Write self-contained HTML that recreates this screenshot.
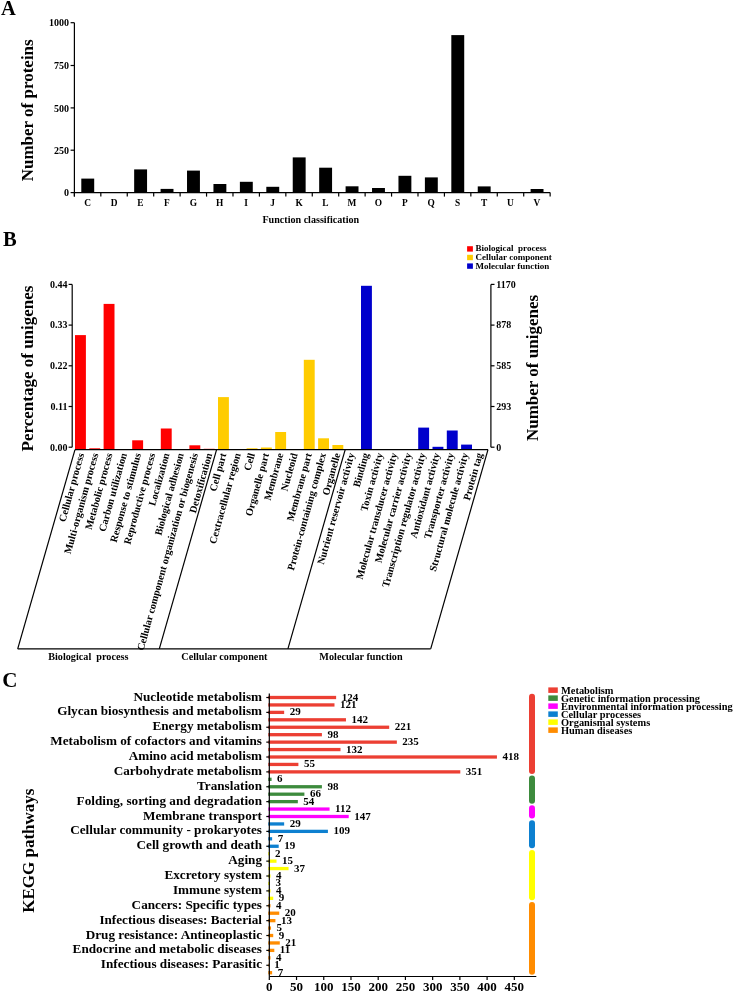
<!DOCTYPE html>
<html><head><meta charset="utf-8"><style>
html,body{margin:0;padding:0;background:#fff;}
body{width:735px;height:992px;overflow:hidden;}
svg{display:block;font-family:"Liberation Serif", serif;will-change:transform;}
</style></head><body>
<svg width="735" height="992" viewBox="0 0 735 992">
<text x="1.00" y="14.80" font-size="20.5" text-anchor="start" font-weight="bold" fill="#000" >A</text>
<line x1="74.40" y1="22.70" x2="74.40" y2="196.50" stroke="#000" stroke-width="1.2"/>
<line x1="70.60" y1="22.70" x2="74.40" y2="22.70" stroke="#000" stroke-width="1.2"/>
<text x="69.00" y="26.40" font-size="10" text-anchor="end" font-weight="bold" fill="#000" >1000</text>
<line x1="70.60" y1="65.50" x2="74.40" y2="65.50" stroke="#000" stroke-width="1.2"/>
<text x="69.00" y="69.20" font-size="10" text-anchor="end" font-weight="bold" fill="#000" >750</text>
<line x1="70.60" y1="107.90" x2="74.40" y2="107.90" stroke="#000" stroke-width="1.2"/>
<text x="69.00" y="111.60" font-size="10" text-anchor="end" font-weight="bold" fill="#000" >500</text>
<line x1="70.60" y1="150.20" x2="74.40" y2="150.20" stroke="#000" stroke-width="1.2"/>
<text x="69.00" y="153.90" font-size="10" text-anchor="end" font-weight="bold" fill="#000" >250</text>
<line x1="70.60" y1="192.60" x2="74.40" y2="192.60" stroke="#000" stroke-width="1.2"/>
<text x="69.00" y="196.30" font-size="10" text-anchor="end" font-weight="bold" fill="#000" >0</text>
<line x1="74.40" y1="192.60" x2="550.14" y2="192.60" stroke="#000" stroke-width="1.2"/>
<line x1="74.40" y1="192.60" x2="74.40" y2="196.60" stroke="#000" stroke-width="1.2"/>
<line x1="100.83" y1="192.60" x2="100.83" y2="196.60" stroke="#000" stroke-width="1.2"/>
<line x1="127.26" y1="192.60" x2="127.26" y2="196.60" stroke="#000" stroke-width="1.2"/>
<line x1="153.69" y1="192.60" x2="153.69" y2="196.60" stroke="#000" stroke-width="1.2"/>
<line x1="180.12" y1="192.60" x2="180.12" y2="196.60" stroke="#000" stroke-width="1.2"/>
<line x1="206.55" y1="192.60" x2="206.55" y2="196.60" stroke="#000" stroke-width="1.2"/>
<line x1="232.98" y1="192.60" x2="232.98" y2="196.60" stroke="#000" stroke-width="1.2"/>
<line x1="259.41" y1="192.60" x2="259.41" y2="196.60" stroke="#000" stroke-width="1.2"/>
<line x1="285.84" y1="192.60" x2="285.84" y2="196.60" stroke="#000" stroke-width="1.2"/>
<line x1="312.27" y1="192.60" x2="312.27" y2="196.60" stroke="#000" stroke-width="1.2"/>
<line x1="338.70" y1="192.60" x2="338.70" y2="196.60" stroke="#000" stroke-width="1.2"/>
<line x1="365.13" y1="192.60" x2="365.13" y2="196.60" stroke="#000" stroke-width="1.2"/>
<line x1="391.56" y1="192.60" x2="391.56" y2="196.60" stroke="#000" stroke-width="1.2"/>
<line x1="417.99" y1="192.60" x2="417.99" y2="196.60" stroke="#000" stroke-width="1.2"/>
<line x1="444.42" y1="192.60" x2="444.42" y2="196.60" stroke="#000" stroke-width="1.2"/>
<line x1="470.85" y1="192.60" x2="470.85" y2="196.60" stroke="#000" stroke-width="1.2"/>
<line x1="497.28" y1="192.60" x2="497.28" y2="196.60" stroke="#000" stroke-width="1.2"/>
<line x1="523.71" y1="192.60" x2="523.71" y2="196.60" stroke="#000" stroke-width="1.2"/>
<line x1="550.14" y1="192.60" x2="550.14" y2="196.60" stroke="#000" stroke-width="1.2"/>
<rect x="81.30" y="178.60" width="12.90" height="14.00" fill="#000"/>
<text x="87.62" y="205.70" font-size="9.4" text-anchor="middle" font-weight="bold" fill="#000" >C</text>
<text x="114.05" y="205.70" font-size="9.4" text-anchor="middle" font-weight="bold" fill="#000" >D</text>
<rect x="134.16" y="169.40" width="12.90" height="23.20" fill="#000"/>
<text x="140.47" y="205.70" font-size="9.4" text-anchor="middle" font-weight="bold" fill="#000" >E</text>
<rect x="160.59" y="188.90" width="12.90" height="3.70" fill="#000"/>
<text x="166.91" y="205.70" font-size="9.4" text-anchor="middle" font-weight="bold" fill="#000" >F</text>
<rect x="187.02" y="170.60" width="12.90" height="22.00" fill="#000"/>
<text x="193.34" y="205.70" font-size="9.4" text-anchor="middle" font-weight="bold" fill="#000" >G</text>
<rect x="213.45" y="184.00" width="12.90" height="8.60" fill="#000"/>
<text x="219.77" y="205.70" font-size="9.4" text-anchor="middle" font-weight="bold" fill="#000" >H</text>
<rect x="239.88" y="181.80" width="12.90" height="10.80" fill="#000"/>
<text x="246.19" y="205.70" font-size="9.4" text-anchor="middle" font-weight="bold" fill="#000" >I</text>
<rect x="266.31" y="186.80" width="12.90" height="5.80" fill="#000"/>
<text x="272.62" y="205.70" font-size="9.4" text-anchor="middle" font-weight="bold" fill="#000" >J</text>
<rect x="292.74" y="157.40" width="12.90" height="35.20" fill="#000"/>
<text x="299.06" y="205.70" font-size="9.4" text-anchor="middle" font-weight="bold" fill="#000" >K</text>
<rect x="319.17" y="167.70" width="12.90" height="24.90" fill="#000"/>
<text x="325.48" y="205.70" font-size="9.4" text-anchor="middle" font-weight="bold" fill="#000" >L</text>
<rect x="345.60" y="186.30" width="12.90" height="6.30" fill="#000"/>
<text x="351.92" y="205.70" font-size="9.4" text-anchor="middle" font-weight="bold" fill="#000" >M</text>
<rect x="372.03" y="188.00" width="12.90" height="4.60" fill="#000"/>
<text x="378.34" y="205.70" font-size="9.4" text-anchor="middle" font-weight="bold" fill="#000" >O</text>
<rect x="398.46" y="175.80" width="12.90" height="16.80" fill="#000"/>
<text x="404.77" y="205.70" font-size="9.4" text-anchor="middle" font-weight="bold" fill="#000" >P</text>
<rect x="424.89" y="177.40" width="12.90" height="15.20" fill="#000"/>
<text x="431.20" y="205.70" font-size="9.4" text-anchor="middle" font-weight="bold" fill="#000" >Q</text>
<rect x="451.32" y="35.10" width="12.90" height="157.50" fill="#000"/>
<text x="457.63" y="205.70" font-size="9.4" text-anchor="middle" font-weight="bold" fill="#000" >S</text>
<rect x="477.75" y="186.40" width="12.90" height="6.20" fill="#000"/>
<text x="484.06" y="205.70" font-size="9.4" text-anchor="middle" font-weight="bold" fill="#000" >T</text>
<text x="510.49" y="205.70" font-size="9.4" text-anchor="middle" font-weight="bold" fill="#000" >U</text>
<rect x="530.61" y="189.00" width="12.90" height="3.60" fill="#000"/>
<text x="536.93" y="205.70" font-size="9.4" text-anchor="middle" font-weight="bold" fill="#000" >V</text>
<text x="310.80" y="222.80" font-size="10.1" text-anchor="middle" font-weight="bold" fill="#000" >Function classification</text>
<text x="0.00" y="0.00" font-size="17" text-anchor="middle" font-weight="bold" fill="#000" transform="translate(33.3,110.3) rotate(-90)">Number of proteins</text>
<text x="3.10" y="245.80" font-size="20.5" text-anchor="start" font-weight="bold" fill="#000" >B</text>
<line x1="72.20" y1="284.40" x2="72.20" y2="447.20" stroke="#000" stroke-width="1.2"/>
<line x1="68.60" y1="284.40" x2="72.20" y2="284.40" stroke="#000" stroke-width="1.2"/>
<text x="67.40" y="287.70" font-size="10" text-anchor="end" font-weight="bold" fill="#000" >0.44</text>
<line x1="68.60" y1="325.10" x2="72.20" y2="325.10" stroke="#000" stroke-width="1.2"/>
<text x="67.40" y="328.40" font-size="10" text-anchor="end" font-weight="bold" fill="#000" >0.33</text>
<line x1="68.60" y1="365.80" x2="72.20" y2="365.80" stroke="#000" stroke-width="1.2"/>
<text x="67.40" y="369.10" font-size="10" text-anchor="end" font-weight="bold" fill="#000" >0.22</text>
<line x1="68.60" y1="406.50" x2="72.20" y2="406.50" stroke="#000" stroke-width="1.2"/>
<text x="67.40" y="409.80" font-size="10" text-anchor="end" font-weight="bold" fill="#000" >0.11</text>
<line x1="68.60" y1="447.20" x2="72.20" y2="447.20" stroke="#000" stroke-width="1.2"/>
<text x="67.40" y="450.50" font-size="10" text-anchor="end" font-weight="bold" fill="#000" >0.00</text>
<line x1="490.90" y1="284.40" x2="490.90" y2="447.20" stroke="#000" stroke-width="1.2"/>
<line x1="490.90" y1="284.40" x2="494.50" y2="284.40" stroke="#000" stroke-width="1.2"/>
<text x="496.30" y="287.70" font-size="10" text-anchor="start" font-weight="bold" fill="#000" >1170</text>
<line x1="490.90" y1="325.10" x2="494.50" y2="325.10" stroke="#000" stroke-width="1.2"/>
<text x="496.30" y="328.40" font-size="10" text-anchor="start" font-weight="bold" fill="#000" >878</text>
<line x1="490.90" y1="365.80" x2="494.50" y2="365.80" stroke="#000" stroke-width="1.2"/>
<text x="496.30" y="369.10" font-size="10" text-anchor="start" font-weight="bold" fill="#000" >585</text>
<line x1="490.90" y1="406.50" x2="494.50" y2="406.50" stroke="#000" stroke-width="1.2"/>
<text x="496.30" y="409.80" font-size="10" text-anchor="start" font-weight="bold" fill="#000" >293</text>
<line x1="490.90" y1="447.20" x2="494.50" y2="447.20" stroke="#000" stroke-width="1.2"/>
<text x="496.30" y="450.50" font-size="10" text-anchor="start" font-weight="bold" fill="#000" >0</text>
<rect x="75.00" y="335.10" width="10.90" height="114.50" fill="#FF0000"/>
<rect x="89.30" y="448.30" width="10.90" height="1.30" fill="#FF0000"/>
<rect x="103.60" y="303.90" width="10.90" height="145.70" fill="#FF0000"/>
<rect x="117.90" y="449.00" width="10.90" height="0.60" fill="#FF0000"/>
<rect x="132.20" y="440.30" width="10.90" height="9.30" fill="#FF0000"/>
<rect x="160.80" y="428.50" width="10.90" height="21.10" fill="#FF0000"/>
<rect x="189.40" y="445.30" width="10.90" height="4.30" fill="#FF0000"/>
<rect x="203.70" y="448.80" width="10.90" height="0.80" fill="#FF0000"/>
<rect x="218.00" y="397.10" width="10.90" height="52.50" fill="#FFCC00"/>
<rect x="246.60" y="448.30" width="10.90" height="1.30" fill="#FFCC00"/>
<rect x="260.90" y="447.50" width="10.90" height="2.10" fill="#FFCC00"/>
<rect x="275.20" y="432.00" width="10.90" height="17.60" fill="#FFCC00"/>
<rect x="303.80" y="359.80" width="10.90" height="89.80" fill="#FFCC00"/>
<rect x="318.10" y="438.30" width="10.90" height="11.30" fill="#FFCC00"/>
<rect x="332.40" y="445.00" width="10.90" height="4.60" fill="#FFCC00"/>
<rect x="361.00" y="285.80" width="10.90" height="163.80" fill="#0000CC"/>
<rect x="375.30" y="449.00" width="10.90" height="0.60" fill="#0000CC"/>
<rect x="403.90" y="449.00" width="10.90" height="0.60" fill="#0000CC"/>
<rect x="418.20" y="427.60" width="10.90" height="22.00" fill="#0000CC"/>
<rect x="432.50" y="446.80" width="10.90" height="2.80" fill="#0000CC"/>
<rect x="446.80" y="430.50" width="10.90" height="19.10" fill="#0000CC"/>
<rect x="461.10" y="444.60" width="10.90" height="5.00" fill="#0000CC"/>
<line x1="75.00" y1="449.60" x2="488.00" y2="449.60" stroke="#000" stroke-width="1.2"/>
<line x1="75.00" y1="449.60" x2="17.70" y2="648.90" stroke="#000" stroke-width="1.2"/>
<line x1="216.60" y1="449.60" x2="159.30" y2="648.90" stroke="#000" stroke-width="1.2"/>
<line x1="345.20" y1="449.60" x2="287.90" y2="648.90" stroke="#000" stroke-width="1.2"/>
<line x1="488.00" y1="449.60" x2="430.70" y2="648.90" stroke="#000" stroke-width="1.2"/>
<line x1="17.70" y1="648.90" x2="430.70" y2="648.90" stroke="#000" stroke-width="1.2"/>
<text font-size="10.3" font-weight="bold" text-anchor="end" dominant-baseline="central" transform="translate(80.85,453.2) rotate(-74.5)">Cellular process</text>
<text font-size="10.3" font-weight="bold" text-anchor="end" dominant-baseline="central" transform="translate(95.08,453.2) rotate(-74.5)">Multi-organism process</text>
<text font-size="10.3" font-weight="bold" text-anchor="end" dominant-baseline="central" transform="translate(109.31,453.2) rotate(-74.5)">Metabolic process</text>
<text font-size="10.3" font-weight="bold" text-anchor="end" dominant-baseline="central" transform="translate(123.54,453.2) rotate(-74.5)">Carbon utilization</text>
<text font-size="10.3" font-weight="bold" text-anchor="end" dominant-baseline="central" transform="translate(137.77,453.2) rotate(-74.5)">Response to stimulus</text>
<text font-size="10.3" font-weight="bold" text-anchor="end" dominant-baseline="central" transform="translate(152.00,453.2) rotate(-74.5)">Reproductive process</text>
<text font-size="10.3" font-weight="bold" text-anchor="end" dominant-baseline="central" transform="translate(166.23,453.2) rotate(-74.5)">Localization</text>
<text font-size="10.3" font-weight="bold" text-anchor="end" dominant-baseline="central" transform="translate(180.46,453.2) rotate(-74.5)">Biological adhesion</text>
<text font-size="10.3" font-weight="bold" text-anchor="end" dominant-baseline="central" transform="translate(194.69,453.2) rotate(-74.5)">Cellular component organization or biogenesis</text>
<text font-size="10.3" font-weight="bold" text-anchor="end" dominant-baseline="central" transform="translate(208.92,453.2) rotate(-74.5)">Detoxification</text>
<text font-size="10.3" font-weight="bold" text-anchor="end" dominant-baseline="central" transform="translate(223.15,453.2) rotate(-74.5)">Cell part</text>
<text font-size="10.3" font-weight="bold" text-anchor="end" dominant-baseline="central" transform="translate(237.38,453.2) rotate(-74.5)">Cextracellular region</text>
<text font-size="10.3" font-weight="bold" text-anchor="end" dominant-baseline="central" transform="translate(251.61,453.2) rotate(-74.5)">Cell</text>
<text font-size="10.3" font-weight="bold" text-anchor="end" dominant-baseline="central" transform="translate(265.84,453.2) rotate(-74.5)">Organelle part</text>
<text font-size="10.3" font-weight="bold" text-anchor="end" dominant-baseline="central" transform="translate(280.07,453.2) rotate(-74.5)">Membrane</text>
<text font-size="10.3" font-weight="bold" text-anchor="end" dominant-baseline="central" transform="translate(294.30,453.2) rotate(-74.5)">Nucleoid</text>
<text font-size="10.3" font-weight="bold" text-anchor="end" dominant-baseline="central" transform="translate(308.53,453.2) rotate(-74.5)">Membrane part</text>
<text font-size="10.3" font-weight="bold" text-anchor="end" dominant-baseline="central" transform="translate(322.76,453.2) rotate(-74.5)">Protein-containing complex</text>
<text font-size="10.3" font-weight="bold" text-anchor="end" dominant-baseline="central" transform="translate(336.99,453.2) rotate(-74.5)">Organelle</text>
<text font-size="10.3" font-weight="bold" text-anchor="end" dominant-baseline="central" transform="translate(351.22,453.2) rotate(-74.5)">Nutrient reservoir activity</text>
<text font-size="10.3" font-weight="bold" text-anchor="end" dominant-baseline="central" transform="translate(365.45,453.2) rotate(-74.5)">Binding</text>
<text font-size="10.3" font-weight="bold" text-anchor="end" dominant-baseline="central" transform="translate(379.68,453.2) rotate(-74.5)">Toxin activity</text>
<text font-size="10.3" font-weight="bold" text-anchor="end" dominant-baseline="central" transform="translate(393.91,453.2) rotate(-74.5)">Molecular transducer activity</text>
<text font-size="10.3" font-weight="bold" text-anchor="end" dominant-baseline="central" transform="translate(408.14,453.2) rotate(-74.5)">Molecular carrier activity</text>
<text font-size="10.3" font-weight="bold" text-anchor="end" dominant-baseline="central" transform="translate(422.37,453.2) rotate(-74.5)">Transcription regulator activity</text>
<text font-size="10.3" font-weight="bold" text-anchor="end" dominant-baseline="central" transform="translate(436.60,453.2) rotate(-74.5)">Antioxidant activity</text>
<text font-size="10.3" font-weight="bold" text-anchor="end" dominant-baseline="central" transform="translate(450.83,453.2) rotate(-74.5)">Transporter activity</text>
<text font-size="10.3" font-weight="bold" text-anchor="end" dominant-baseline="central" transform="translate(465.06,453.2) rotate(-74.5)">Structural molecule activity</text>
<text font-size="10.3" font-weight="bold" text-anchor="end" dominant-baseline="central" transform="translate(479.29,453.2) rotate(-74.5)">Protein tag</text>
<text x="88.30" y="660.00" font-size="10.2" text-anchor="middle" font-weight="bold" fill="#000" >Biological&#160; process</text>
<text x="224.40" y="660.00" font-size="10.2" text-anchor="middle" font-weight="bold" fill="#000" >Cellular component</text>
<text x="361.00" y="660.00" font-size="10.2" text-anchor="middle" font-weight="bold" fill="#000" >Molecular function</text>
<rect x="467.10" y="246.20" width="5.80" height="5.40" fill="#FF0000"/>
<text x="475.60" y="251.40" font-size="9.0" text-anchor="start" font-weight="bold" fill="#000" >Biological&#160; process</text>
<rect x="467.10" y="254.80" width="5.80" height="5.40" fill="#FFCC00"/>
<text x="475.60" y="260.00" font-size="9.0" text-anchor="start" font-weight="bold" fill="#000" >Cellular component</text>
<rect x="467.10" y="263.40" width="5.80" height="5.40" fill="#0000CC"/>
<text x="475.60" y="268.60" font-size="9.0" text-anchor="start" font-weight="bold" fill="#000" >Molecular function</text>
<text x="0.00" y="0.00" font-size="17" text-anchor="middle" font-weight="bold" fill="#000" transform="translate(32.6,368.5) rotate(-90)">Percentage of unigenes</text>
<text x="0.00" y="0.00" font-size="17" text-anchor="middle" font-weight="bold" fill="#000" transform="translate(538.1,368.0) rotate(-90)">Number of unigenes</text>
<text x="2.20" y="686.60" font-size="21" text-anchor="start" font-weight="bold" fill="#000" >C</text>
<line x1="269.30" y1="976.50" x2="269.30" y2="980.00" stroke="#000" stroke-width="1.2"/>
<text x="269.30" y="990.80" font-size="13" text-anchor="middle" font-weight="bold" fill="#000" >0</text>
<line x1="296.53" y1="976.50" x2="296.53" y2="980.00" stroke="#000" stroke-width="1.2"/>
<text x="296.53" y="990.80" font-size="13" text-anchor="middle" font-weight="bold" fill="#000" >50</text>
<line x1="323.75" y1="976.50" x2="323.75" y2="980.00" stroke="#000" stroke-width="1.2"/>
<text x="323.75" y="990.80" font-size="13" text-anchor="middle" font-weight="bold" fill="#000" >100</text>
<line x1="350.98" y1="976.50" x2="350.98" y2="980.00" stroke="#000" stroke-width="1.2"/>
<text x="350.98" y="990.80" font-size="13" text-anchor="middle" font-weight="bold" fill="#000" >150</text>
<line x1="378.20" y1="976.50" x2="378.20" y2="980.00" stroke="#000" stroke-width="1.2"/>
<text x="378.20" y="990.80" font-size="13" text-anchor="middle" font-weight="bold" fill="#000" >200</text>
<line x1="405.43" y1="976.50" x2="405.43" y2="980.00" stroke="#000" stroke-width="1.2"/>
<text x="405.43" y="990.80" font-size="13" text-anchor="middle" font-weight="bold" fill="#000" >250</text>
<line x1="432.65" y1="976.50" x2="432.65" y2="980.00" stroke="#000" stroke-width="1.2"/>
<text x="432.65" y="990.80" font-size="13" text-anchor="middle" font-weight="bold" fill="#000" >300</text>
<line x1="459.88" y1="976.50" x2="459.88" y2="980.00" stroke="#000" stroke-width="1.2"/>
<text x="459.88" y="990.80" font-size="13" text-anchor="middle" font-weight="bold" fill="#000" >350</text>
<line x1="487.10" y1="976.50" x2="487.10" y2="980.00" stroke="#000" stroke-width="1.2"/>
<text x="487.10" y="990.80" font-size="13" text-anchor="middle" font-weight="bold" fill="#000" >400</text>
<line x1="514.33" y1="976.50" x2="514.33" y2="980.00" stroke="#000" stroke-width="1.2"/>
<text x="514.33" y="990.80" font-size="13" text-anchor="middle" font-weight="bold" fill="#000" >450</text>
<rect x="268.30" y="695.85" width="67.83" height="3.30" fill="#EC3F33"/>
<text x="341.63" y="700.50" font-size="11" text-anchor="start" font-weight="bold" fill="#000" >124</text>
<line x1="266.30" y1="697.50" x2="269.30" y2="697.50" stroke="#000" stroke-width="1.2"/>
<text x="262.00" y="700.50" font-size="13.2" text-anchor="end" font-weight="bold" fill="#000" >Nucleotide metabolism</text>
<rect x="268.30" y="703.29" width="66.19" height="3.30" fill="#EC3F33"/>
<text x="339.99" y="707.94" font-size="11" text-anchor="start" font-weight="bold" fill="#000" >121</text>
<rect x="268.30" y="710.73" width="15.86" height="3.30" fill="#EC3F33"/>
<text x="289.66" y="715.38" font-size="11" text-anchor="start" font-weight="bold" fill="#000" >29</text>
<line x1="266.30" y1="712.38" x2="269.30" y2="712.38" stroke="#000" stroke-width="1.2"/>
<text x="262.00" y="715.38" font-size="13.2" text-anchor="end" font-weight="bold" fill="#000" >Glycan biosynthesis and metabolism</text>
<rect x="268.30" y="718.16" width="77.67" height="3.30" fill="#EC3F33"/>
<text x="351.47" y="722.81" font-size="11" text-anchor="start" font-weight="bold" fill="#000" >142</text>
<rect x="268.30" y="725.60" width="120.89" height="3.30" fill="#EC3F33"/>
<text x="394.69" y="730.25" font-size="11" text-anchor="start" font-weight="bold" fill="#000" >221</text>
<line x1="266.30" y1="727.25" x2="269.30" y2="727.25" stroke="#000" stroke-width="1.2"/>
<text x="262.00" y="730.25" font-size="13.2" text-anchor="end" font-weight="bold" fill="#000" >Energy metabolism</text>
<rect x="268.30" y="733.04" width="53.61" height="3.30" fill="#EC3F33"/>
<text x="327.41" y="737.69" font-size="11" text-anchor="start" font-weight="bold" fill="#000" >98</text>
<rect x="268.30" y="740.48" width="128.55" height="3.30" fill="#EC3F33"/>
<text x="402.35" y="745.13" font-size="11" text-anchor="start" font-weight="bold" fill="#000" >235</text>
<line x1="266.30" y1="742.13" x2="269.30" y2="742.13" stroke="#000" stroke-width="1.2"/>
<text x="262.00" y="745.13" font-size="13.2" text-anchor="end" font-weight="bold" fill="#000" >Metabolism of cofactors and vitamins</text>
<rect x="268.30" y="747.92" width="72.20" height="3.30" fill="#EC3F33"/>
<text x="346.00" y="752.57" font-size="11" text-anchor="start" font-weight="bold" fill="#000" >132</text>
<rect x="268.30" y="755.35" width="228.65" height="3.30" fill="#EC3F33"/>
<text x="502.45" y="760.00" font-size="11" text-anchor="start" font-weight="bold" fill="#000" >418</text>
<line x1="266.30" y1="757.00" x2="269.30" y2="757.00" stroke="#000" stroke-width="1.2"/>
<text x="262.00" y="760.00" font-size="13.2" text-anchor="end" font-weight="bold" fill="#000" >Amino acid metabolism</text>
<rect x="268.30" y="762.79" width="30.09" height="3.30" fill="#EC3F33"/>
<text x="303.88" y="767.44" font-size="11" text-anchor="start" font-weight="bold" fill="#000" >55</text>
<rect x="268.30" y="770.23" width="192.00" height="3.30" fill="#EC3F33"/>
<text x="465.80" y="774.88" font-size="11" text-anchor="start" font-weight="bold" fill="#000" >351</text>
<line x1="266.30" y1="771.88" x2="269.30" y2="771.88" stroke="#000" stroke-width="1.2"/>
<text x="262.00" y="774.88" font-size="13.2" text-anchor="end" font-weight="bold" fill="#000" >Carbohydrate metabolism</text>
<rect x="268.30" y="777.67" width="3.28" height="3.30" fill="#3D8B3D"/>
<text x="277.08" y="782.32" font-size="11" text-anchor="start" font-weight="bold" fill="#000" >6</text>
<rect x="268.30" y="785.11" width="53.61" height="3.30" fill="#3D8B3D"/>
<text x="327.41" y="789.76" font-size="11" text-anchor="start" font-weight="bold" fill="#000" >98</text>
<line x1="266.30" y1="786.76" x2="269.30" y2="786.76" stroke="#000" stroke-width="1.2"/>
<text x="262.00" y="789.76" font-size="13.2" text-anchor="end" font-weight="bold" fill="#000" >Translation</text>
<rect x="268.30" y="792.54" width="36.10" height="3.30" fill="#3D8B3D"/>
<text x="309.90" y="797.19" font-size="11" text-anchor="start" font-weight="bold" fill="#000" >66</text>
<rect x="268.30" y="799.98" width="29.54" height="3.30" fill="#3D8B3D"/>
<text x="303.34" y="804.63" font-size="11" text-anchor="start" font-weight="bold" fill="#000" >54</text>
<line x1="266.30" y1="801.63" x2="269.30" y2="801.63" stroke="#000" stroke-width="1.2"/>
<text x="262.00" y="804.63" font-size="13.2" text-anchor="end" font-weight="bold" fill="#000" >Folding, sorting and degradation</text>
<rect x="268.30" y="807.42" width="61.26" height="3.30" fill="#FF00FF"/>
<text x="335.06" y="812.07" font-size="11" text-anchor="start" font-weight="bold" fill="#000" >112</text>
<rect x="268.30" y="814.86" width="80.41" height="3.30" fill="#FF00FF"/>
<text x="354.21" y="819.51" font-size="11" text-anchor="start" font-weight="bold" fill="#000" >147</text>
<line x1="266.30" y1="816.51" x2="269.30" y2="816.51" stroke="#000" stroke-width="1.2"/>
<text x="262.00" y="819.51" font-size="13.2" text-anchor="end" font-weight="bold" fill="#000" >Membrane transport</text>
<rect x="268.30" y="822.30" width="15.86" height="3.30" fill="#0D80D0"/>
<text x="289.66" y="826.95" font-size="11" text-anchor="start" font-weight="bold" fill="#000" >29</text>
<rect x="268.30" y="829.73" width="59.62" height="3.30" fill="#0D80D0"/>
<text x="333.42" y="834.38" font-size="11" text-anchor="start" font-weight="bold" fill="#000" >109</text>
<line x1="266.30" y1="831.38" x2="269.30" y2="831.38" stroke="#000" stroke-width="1.2"/>
<text x="262.00" y="834.38" font-size="13.2" text-anchor="end" font-weight="bold" fill="#000" >Cellular community - prokaryotes</text>
<rect x="268.30" y="837.17" width="3.83" height="3.30" fill="#0D80D0"/>
<text x="277.63" y="841.82" font-size="11" text-anchor="start" font-weight="bold" fill="#000" >7</text>
<rect x="268.30" y="844.61" width="10.39" height="3.30" fill="#0D80D0"/>
<text x="284.19" y="849.26" font-size="11" text-anchor="start" font-weight="bold" fill="#000" >19</text>
<line x1="266.30" y1="846.26" x2="269.30" y2="846.26" stroke="#000" stroke-width="1.2"/>
<text x="262.00" y="849.26" font-size="13.2" text-anchor="end" font-weight="bold" fill="#000" >Cell growth and death</text>
<rect x="268.30" y="852.05" width="1.09" height="3.30" fill="#FFFF00"/>
<text x="274.89" y="856.70" font-size="11" text-anchor="start" font-weight="bold" fill="#000" >2</text>
<rect x="268.30" y="859.49" width="8.21" height="3.30" fill="#FFFF00"/>
<text x="282.00" y="864.14" font-size="11" text-anchor="start" font-weight="bold" fill="#000" >15</text>
<line x1="266.30" y1="861.14" x2="269.30" y2="861.14" stroke="#000" stroke-width="1.2"/>
<text x="262.00" y="864.14" font-size="13.2" text-anchor="end" font-weight="bold" fill="#000" >Aging</text>
<rect x="268.30" y="866.92" width="20.24" height="3.30" fill="#FFFF00"/>
<text x="294.04" y="871.57" font-size="11" text-anchor="start" font-weight="bold" fill="#000" >37</text>
<rect x="268.30" y="874.36" width="2.19" height="3.30" fill="#FFFF00"/>
<text x="275.99" y="879.01" font-size="11" text-anchor="start" font-weight="bold" fill="#000" >4</text>
<line x1="266.30" y1="876.01" x2="269.30" y2="876.01" stroke="#000" stroke-width="1.2"/>
<text x="262.00" y="879.01" font-size="13.2" text-anchor="end" font-weight="bold" fill="#000" >Excretory system</text>
<rect x="268.30" y="881.80" width="1.64" height="3.30" fill="#FFFF00"/>
<text x="275.44" y="886.45" font-size="11" text-anchor="start" font-weight="bold" fill="#000" >3</text>
<rect x="268.30" y="889.24" width="2.19" height="3.30" fill="#FFFF00"/>
<text x="275.99" y="893.89" font-size="11" text-anchor="start" font-weight="bold" fill="#000" >4</text>
<line x1="266.30" y1="890.89" x2="269.30" y2="890.89" stroke="#000" stroke-width="1.2"/>
<text x="262.00" y="893.89" font-size="13.2" text-anchor="end" font-weight="bold" fill="#000" >Immune system</text>
<rect x="268.30" y="896.68" width="4.92" height="3.30" fill="#FFFF00"/>
<text x="278.72" y="901.33" font-size="11" text-anchor="start" font-weight="bold" fill="#000" >9</text>
<rect x="268.30" y="904.11" width="2.19" height="3.30" fill="#FF8C00"/>
<text x="275.99" y="908.76" font-size="11" text-anchor="start" font-weight="bold" fill="#000" >4</text>
<line x1="266.30" y1="905.76" x2="269.30" y2="905.76" stroke="#000" stroke-width="1.2"/>
<text x="262.00" y="908.76" font-size="13.2" text-anchor="end" font-weight="bold" fill="#000" >Cancers: Specific types</text>
<rect x="268.30" y="911.55" width="10.94" height="3.30" fill="#FF8C00"/>
<text x="284.74" y="916.20" font-size="11" text-anchor="start" font-weight="bold" fill="#000" >20</text>
<rect x="268.30" y="918.99" width="7.11" height="3.30" fill="#FF8C00"/>
<text x="280.91" y="923.64" font-size="11" text-anchor="start" font-weight="bold" fill="#000" >13</text>
<line x1="266.30" y1="920.64" x2="269.30" y2="920.64" stroke="#000" stroke-width="1.2"/>
<text x="262.00" y="923.64" font-size="13.2" text-anchor="end" font-weight="bold" fill="#000" >Infectious diseases: Bacterial</text>
<rect x="268.30" y="926.43" width="2.74" height="3.30" fill="#FF8C00"/>
<text x="276.54" y="931.08" font-size="11" text-anchor="start" font-weight="bold" fill="#000" >5</text>
<rect x="268.30" y="933.87" width="4.92" height="3.30" fill="#FF8C00"/>
<text x="278.72" y="938.52" font-size="11" text-anchor="start" font-weight="bold" fill="#000" >9</text>
<line x1="266.30" y1="935.52" x2="269.30" y2="935.52" stroke="#000" stroke-width="1.2"/>
<text x="262.00" y="938.52" font-size="13.2" text-anchor="end" font-weight="bold" fill="#000" >Drug resistance: Antineoplastic</text>
<rect x="268.30" y="941.30" width="11.49" height="3.30" fill="#FF8C00"/>
<text x="285.29" y="945.95" font-size="11" text-anchor="start" font-weight="bold" fill="#000" >21</text>
<rect x="268.30" y="948.74" width="6.02" height="3.30" fill="#FF8C00"/>
<text x="279.82" y="953.39" font-size="11" text-anchor="start" font-weight="bold" fill="#000" >11</text>
<line x1="266.30" y1="950.39" x2="269.30" y2="950.39" stroke="#000" stroke-width="1.2"/>
<text x="262.00" y="953.39" font-size="13.2" text-anchor="end" font-weight="bold" fill="#000" >Endocrine and metabolic diseases</text>
<rect x="268.30" y="956.18" width="2.19" height="3.30" fill="#FF8C00"/>
<text x="275.99" y="960.83" font-size="11" text-anchor="start" font-weight="bold" fill="#000" >4</text>
<rect x="268.30" y="963.62" width="0.55" height="3.30" fill="#FF8C00"/>
<text x="274.35" y="968.27" font-size="11" text-anchor="start" font-weight="bold" fill="#000" >1</text>
<line x1="266.30" y1="965.27" x2="269.30" y2="965.27" stroke="#000" stroke-width="1.2"/>
<text x="262.00" y="968.27" font-size="13.2" text-anchor="end" font-weight="bold" fill="#000" >Infectious diseases: Parasitic</text>
<rect x="268.30" y="971.06" width="3.83" height="3.30" fill="#FF8C00"/>
<text x="277.63" y="975.71" font-size="11" text-anchor="start" font-weight="bold" fill="#000" >7</text>
<line x1="269.30" y1="693.60" x2="269.30" y2="976.50" stroke="#000" stroke-width="1.2"/>
<line x1="269.30" y1="976.50" x2="536.30" y2="976.50" stroke="#000" stroke-width="1.2"/>
<line x1="532.0" y1="696.70" x2="532.0" y2="770.88" stroke="#EC3F33" stroke-width="6" stroke-linecap="round"/>
<line x1="532.0" y1="778.52" x2="532.0" y2="800.63" stroke="#3D8B3D" stroke-width="6" stroke-linecap="round"/>
<line x1="532.0" y1="808.27" x2="532.0" y2="815.51" stroke="#FF00FF" stroke-width="6" stroke-linecap="round"/>
<line x1="532.0" y1="823.15" x2="532.0" y2="845.26" stroke="#0D80D0" stroke-width="6" stroke-linecap="round"/>
<line x1="532.0" y1="852.90" x2="532.0" y2="897.33" stroke="#FFFF00" stroke-width="6" stroke-linecap="round"/>
<line x1="532.0" y1="904.96" x2="532.0" y2="971.71" stroke="#FF8C00" stroke-width="6" stroke-linecap="round"/>
<rect x="548.30" y="687.40" width="9.50" height="5.50" fill="#EC3F33"/>
<text x="561.00" y="694.10" font-size="10.4" text-anchor="start" font-weight="bold" fill="#000" >Metabolism</text>
<rect x="548.30" y="695.40" width="9.50" height="5.50" fill="#3D8B3D"/>
<text x="561.00" y="702.10" font-size="10.4" text-anchor="start" font-weight="bold" fill="#000" >Genetic information processing</text>
<rect x="548.30" y="703.40" width="9.50" height="5.50" fill="#FF00FF"/>
<text x="561.00" y="710.10" font-size="10.4" text-anchor="start" font-weight="bold" fill="#000" >Environmental information processing</text>
<rect x="548.30" y="711.40" width="9.50" height="5.50" fill="#0D80D0"/>
<text x="561.00" y="718.10" font-size="10.4" text-anchor="start" font-weight="bold" fill="#000" >Cellular processes</text>
<rect x="548.30" y="719.40" width="9.50" height="5.50" fill="#FFFF00"/>
<text x="561.00" y="726.10" font-size="10.4" text-anchor="start" font-weight="bold" fill="#000" >Organismal systems</text>
<rect x="548.30" y="727.40" width="9.50" height="5.50" fill="#FF8C00"/>
<text x="561.00" y="734.10" font-size="10.4" text-anchor="start" font-weight="bold" fill="#000" >Human diseases</text>
<text x="0.00" y="0.00" font-size="17" text-anchor="middle" font-weight="bold" fill="#000" transform="translate(33.8,850.7) rotate(-90)">KEGG pathways</text>
</svg>
</body></html>
